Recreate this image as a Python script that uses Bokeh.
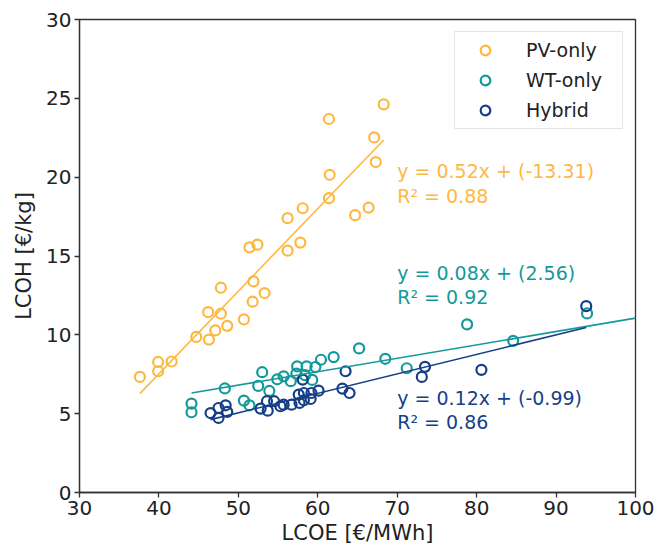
from bokeh.plotting import figure
from bokeh.models import Range1d, Legend, LegendItem, FixedTicker
from bokeh.embed import file_html
from bokeh.resources import INLINE

# ---------------- data ----------------
pv_lcoe = [37.6, 39.9, 39.9, 41.6, 44.7, 46.3, 46.2, 47.1, 47.8, 47.8, 48.6, 50.7, 51.4, 52.4, 51.8,
           51.9, 53.3, 56.2, 56.2, 57.8, 58.1, 61.4, 61.5, 61.4, 64.7, 66.4, 67.1, 67.3, 68.3]
pv_lcoh = [7.33, 8.28, 7.69, 8.31, 9.87, 9.70, 11.44, 10.28, 11.34, 12.99, 10.57, 10.98, 15.55, 15.72, 12.10,
           13.39, 12.65, 17.40, 15.34, 15.85, 18.03, 23.69, 20.15, 18.67, 17.59, 18.07, 22.52, 20.96, 24.62]

wt_lcoe = [44.1, 44.1, 48.3, 50.7, 51.4, 53.0, 52.5, 53.9, 54.9, 55.7, 56.6, 57.4, 57.3, 58.6, 58.4,
           59.3, 59.7, 60.4, 62.0, 65.2, 68.5, 71.2, 78.8, 84.6, 93.9]
wt_lcoh = [5.64, 5.09, 6.60, 5.83, 5.53, 7.63, 6.76, 6.44, 7.18, 7.37, 7.06, 8.00, 7.54, 8.00, 7.44,
           7.14, 7.96, 8.42, 8.59, 9.14, 8.48, 7.88, 10.66, 9.62, 11.36]

hy_lcoe = [46.5, 47.5, 47.5, 48.4, 48.6, 52.8, 53.6, 53.7, 54.5, 55.3, 55.7, 56.7, 57.7, 57.6, 58.25,
           58.1, 58.25, 59.1, 59.2, 60.1, 63.1, 63.5, 64.0, 73.5, 73.1, 80.6, 93.8]
hy_lcoh = [5.04, 4.73, 5.36, 5.53, 5.11, 5.32, 5.79, 5.19, 5.79, 5.47, 5.57, 5.57, 5.68, 6.21, 6.31,
           7.16, 5.85, 5.93, 6.31, 6.46, 6.59, 7.69, 6.31, 7.97, 7.33, 7.78, 11.82]

# fitted line coefficients (slope, intercept)
pv_fit = (0.524, -13.43)
wt_fit = (0.085, 2.56)
hy_fit = (0.1235, -1.12)

pv_eq = ["y = 0.52x + (-13.31)", "R² = 0.88"]
wt_eq = ["y = 0.08x + (2.56)", "R² = 0.92"]
hy_eq = ["y = 0.12x + (-0.99)", "R² = 0.86"]

x_ticks = [30, 40, 50, 60, 70, 80, 90, 100]
y_ticks = [0, 5, 10, 15, 20, 25, 30]

PV_C = "#FFB83F"
WT_C = "#14999B"
HY_C = "#163F88"
FONT = "DejaVu Sans"

X0, X1 = 30, 100
p = figure(width=657, height=551, x_range=Range1d(X0, X1), y_range=Range1d(0, 30),
           output_backend="svg", toolbar_location=None,
           min_border_left=79, min_border_right=22, min_border_top=19, min_border_bottom=59)

p.xgrid.visible = False
p.ygrid.visible = False
p.outline_line_color = "#333333"
p.outline_line_width = 1.3
p.background_fill_color = "white"
p.border_fill_color = "white"

for ax in (p.xaxis[0], p.yaxis[0]):
    ax.axis_line_color = "#333333"
    ax.axis_line_width = 1.3
    ax.major_tick_line_color = "#333333"
    ax.major_tick_line_width = 1.3
    ax.major_tick_out = 5
    ax.major_tick_in = 0
    ax.minor_tick_line_color = None
    ax.major_label_text_font = FONT
    ax.major_label_text_font_size = "20px"
    ax.major_label_text_color = "#222222"
    ax.axis_label_text_font = FONT
    ax.axis_label_text_font_size = "21px"
    ax.axis_label_text_font_style = "normal"
    ax.axis_label_text_color = "#222222"
    ax.major_label_standoff = 3

p.xaxis.ticker = FixedTicker(ticks=x_ticks)
p.yaxis.ticker = FixedTicker(ticks=y_ticks)
p.xaxis.axis_label = "LCOE [€/MWh]"
p.yaxis.axis_label = "LCOH [€/kg]"
p.xaxis.axis_label_standoff = 3
p.yaxis.axis_label_standoff = 7

r_pv = p.scatter(pv_lcoe, pv_lcoh, size=10, fill_color=None, line_color=PV_C, line_width=2.2)
r_wt = p.scatter(wt_lcoe, wt_lcoh, size=10, fill_color=None, line_color=WT_C, line_width=2.2)
r_hy = p.scatter(hy_lcoe, hy_lcoh, size=10, fill_color=None, line_color=HY_C, line_width=2.2)

def fit_line(xs, coef):
    return [xs[0], xs[1]], [coef[0] * xs[0] + coef[1], coef[0] * xs[1] + coef[1]]

lx, ly = fit_line([min(pv_lcoe), max(pv_lcoe)], pv_fit)
p.line(lx, ly, line_color=PV_C, line_width=1.6)
lx, ly = fit_line([min(wt_lcoe), X1], wt_fit)
p.line(lx, ly, line_color=WT_C, line_width=1.6)
lx, ly = fit_line([min(hy_lcoe), max(hy_lcoe)], hy_fit)
p.line(lx, ly, line_color=HY_C, line_width=1.6)

# equation annotations (data coordinates of text rows)
eq_x = 70.0
for lines, ys, col in ((pv_eq, [20.42, 18.83], PV_C), (wt_eq, [13.95, 12.37], WT_C), (hy_eq, [6.02, 4.44], HY_C)):
    p.text(x=[eq_x, eq_x], y=ys, text=lines, text_color=col, text_font_size="19px",
           text_font={"value": FONT}, text_align="left", text_baseline="middle")

legend = Legend(items=[LegendItem(label="PV-only", renderers=[r_pv]),
                       LegendItem(label="WT-only", renderers=[r_wt]),
                       LegendItem(label="Hybrid", renderers=[r_hy])],
                location="top_right", margin=12, padding=6, spacing=6,
                glyph_width=48, glyph_height=24, label_height=24, label_width=90, label_standoff=17,
                label_text_font=FONT, label_text_font_size="19px", label_text_color="#222222",
                border_line_color="#cccccc", border_line_width=1, background_fill_alpha=0.8)
p.add_layout(legend)

open("out.html", "w").write(file_html(p, INLINE))
